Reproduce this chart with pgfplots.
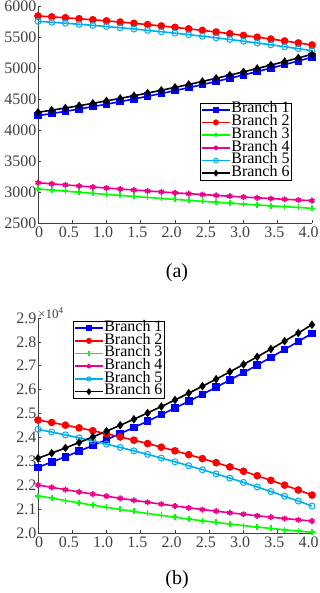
\documentclass[border=0pt]{standalone}
\usepackage{fontspec}
\setmainfont{Liberation Serif}
\usepackage{pgfplots}
\pgfplotsset{compat=1.18}

% branch currents, case (a)
\pgfplotstableread{
x     b1      b2      b3      b4      b5      b6
0.0   4231.0  5839.0  3048.0  3150.0  5753.0  4285.0
0.2   4265.4  5825.2  3030.2  3132.1  5738.0  4319.3
0.4   4301.2  5810.3  3012.6  3114.5  5722.2  4354.8
0.6   4338.3  5794.5  2995.2  3097.3  5705.4  4391.7
0.8   4376.7  5777.7  2978.1  3080.5  5687.6  4430.0
1.0   4416.5  5759.8  2961.3  3064.0  5669.0  4469.5
1.2   4457.6  5740.9  2944.6  3047.9  5649.4  4510.4
1.4   4500.1  5721.1  2928.2  3032.1  5629.0  4552.5
1.6   4543.8  5700.2  2912.1  3016.7  5607.6  4596.0
1.8   4588.9  5678.3  2896.2  3001.7  5585.2  4640.9
2.0   4635.4  5655.4  2880.5  2987.0  5562.0  4687.0
2.2   4683.2  5631.5  2865.1  2972.7  5537.8  4734.5
2.4   4732.3  5606.6  2849.9  2958.7  5512.8  4783.2
2.6   4782.8  5580.7  2834.9  2945.1  5486.8  4833.3
2.8   4834.6  5553.7  2820.2  2931.9  5459.8  4884.8
3.0   4887.7  5525.8  2805.8  2919.0  5432.0  4937.5
3.2   4942.2  5496.9  2791.5  2906.5  5403.2  4991.6
3.4   4998.0  5466.9  2777.5  2894.3  5373.6  5046.9
3.6   5055.1  5435.9  2763.8  2882.5  5343.0  5103.6
3.8   5113.6  5404.0  2750.3  2871.1  5311.4  5161.7
4.0   5173.4  5371.0  2737.0  2860.0  5279.0  5221.0
}\dataA

% case (b), in units of 10^4
\pgfplotstableread{
x     b1      b2      b3      b4      b5      b6
0.0   2.2750  2.4730  2.1560  2.2010  2.4340  2.3130
0.2   2.2969  2.4626  2.1458  2.1911  2.4226  2.3342
0.4   2.3194  2.4517  2.1358  2.1814  2.4107  2.3561
0.6   2.3426  2.4402  2.1262  2.1720  2.3983  2.3788
0.8   2.3664  2.4281  2.1168  2.1628  2.3855  2.4021
1.0   2.3909  2.4155  2.1076  2.1539  2.3721  2.4261
1.2   2.4160  2.4023  2.0988  2.1452  2.3583  2.4509
1.4   2.4418  2.3886  2.0902  2.1368  2.3439  2.4763
1.6   2.4682  2.3743  2.0818  2.1286  2.3291  2.5025
1.8   2.4953  2.3594  2.0738  2.1207  2.3138  2.5294
2.0   2.5230  2.3440  2.0660  2.1130  2.2980  2.5570
2.2   2.5514  2.3280  2.0585  2.1056  2.2817  2.5853
2.4   2.5804  2.3115  2.0512  2.0984  2.2649  2.6143
2.6   2.6101  2.2944  2.0443  2.0915  2.2476  2.6440
2.8   2.6404  2.2767  2.0376  2.0848  2.2299  2.6745
3.0   2.6714  2.2585  2.0311  2.0784  2.2116  2.7056
3.2   2.7030  2.2397  2.0250  2.0722  2.1929  2.7375
3.4   2.7353  2.2204  2.0191  2.0663  2.1736  2.7700
3.6   2.7682  2.2005  2.0134  2.0606  2.1539  2.8033
3.8   2.8018  2.1800  2.0081  2.0552  2.1337  2.8373
4.0   2.8360  2.1590  2.0030  2.0500  2.1130  2.8720
}\dataB

\pgfplotsset{
  branchaxis/.style={
    scale only axis,
    width=274pt,
    xmin=0, xmax=4,
    axis x line*=bottom,
    axis y line*=left,
    axis line style={black!75, line width=0.6pt},
    tick style={black!75, line width=0.6pt},
    tick align=inside,
    major tick length=3pt,
    clip=false,
    scaled y ticks=false,
    xtick={0,0.5,1,1.5,2,2.5,3,3.5,4},
    xticklabels={\hspace*{9pt}0,0.5,1.0,1.5,2.0,2.5,3.0,3.5,4.0},
    ticklabel style={font=\fontsize{16}{16}\selectfont, text=black!75},
    yticklabel style={inner sep=1.5pt},
    xticklabel style={inner sep=1pt, yshift=-3pt, xshift=-3.5pt},
    /pgf/number format/assume math mode=true,
    every axis plot/.append style={line width=1.6pt, mark size=3pt},
    legend cell align=left,
    legend style={
      draw=black, line width=0.6pt, fill=white,
      font=\fontsize{16}{12}\selectfont,
      inner xsep=1pt, inner ysep=0.5pt,
      nodes={inner sep=0.6pt, text height=9pt, text depth=2.5pt},
      row sep=0pt,
    },
    legend image code/.code={
      \draw[mark repeat=2,mark phase=2,mark size=2.2pt] plot coordinates {(0pt,0pt) (14pt,0pt) (28pt,0pt)};
    },
  },
}

\begin{document}
\begin{tikzpicture}
\useasboundingbox (0pt,0pt) rectangle (320pt,-593pt);

\begin{axis}[branchaxis,
  at={(38pt,-223pt)}, anchor=south west,
  height=217pt,
  ymin=2500, ymax=6000,
  ytick={2500,3000,3500,4000,4500,5000,5500,6000},
  yticklabels={2500,3000,3500,4000,4500,5000,5500,6000},
  legend style={at={(0.925,0.555)}, anchor=north east},
]
\addplot[color=blue, mark=square*] table[x=x, y=b1] {\dataA};
\addplot[color=red, mark=*] table[x=x, y=b2] {\dataA};
\addplot[color=green, mark=+] table[x=x, y=b3] {\dataA};
\addplot[color=magenta, mark=asterisk] table[x=x, y=b4] {\dataA};
\addplot[color=cyan, mark=o, mark options={line width=1pt}] table[x=x, y=b5] {\dataA};
\addplot[color=black, mark=diamond*] table[x=x, y=b6] {\dataA};
\legend{Branch 1,Branch 2,Branch 3,Branch 4,Branch 5,Branch 6}
\end{axis}

\node[font=\fontsize{20}{20}\selectfont] at (177pt,-273pt) {(a)};

\begin{axis}[branchaxis,
  at={(38pt,-533pt)}, anchor=south west,
  height=215pt,
  ymin=2.0, ymax=2.9,
  ytick={2.0,2.1,2.2,2.3,2.4,2.5,2.6,2.7,2.8,2.9},
  yticklabels={2.0,2.1,2.2,2.3,2.4,2.5,2.6,2.7,2.8,2.9},
  legend style={at={(0.127,0.986)}, anchor=north west},
]
\addplot[color=blue, mark=square*] table[x=x, y=b1] {\dataB};
\addplot[color=red, mark=*] table[x=x, y=b2] {\dataB};
\addplot[color=green, mark=+] table[x=x, y=b3] {\dataB};
\addplot[color=magenta, mark=asterisk] table[x=x, y=b4] {\dataB};
\addplot[color=cyan, mark=o, mark options={line width=1pt}] table[x=x, y=b5] {\dataB};
\addplot[color=black, mark=diamond*] table[x=x, y=b6] {\dataB};
\legend{Branch 1,Branch 2,Branch 3,Branch 4,Branch 5,Branch 6}
\node[anchor=base west, inner sep=0pt, text=black!75, font=\fontsize{13}{13}\selectfont]
  at (rel axis cs:0,1) {×10\textsuperscript{4}};
\end{axis}

\node[font=\fontsize{20}{20}\selectfont] at (177pt,-580pt) {(b)};
\end{tikzpicture}
\end{document}
